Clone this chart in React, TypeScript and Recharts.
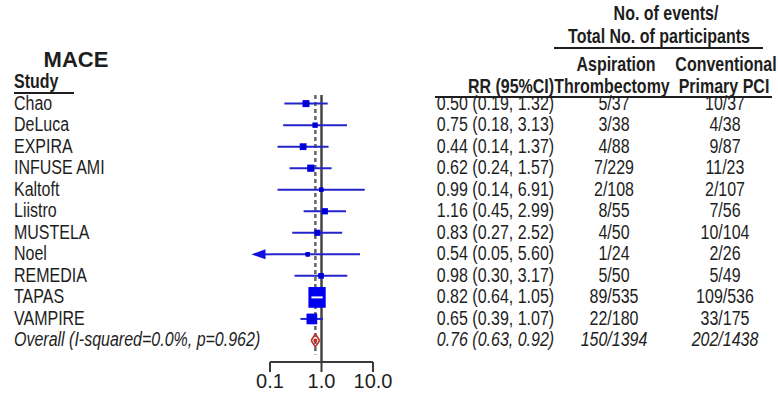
import React from 'react';
import { ScatterChart, Scatter, XAxis, YAxis, ErrorBar, ReferenceLine, ReferenceDot } from 'recharts';

const studies = ['Chao', 'DeLuca', 'EXPIRA', 'INFUSE AMI', 'Kaltoft', 'Liistro', 'MUSTELA', 'Noel', 'REMEDIA', 'TAPAS', 'VAMPIRE'];
const rr = [0.5, 0.75, 0.44, 0.62, 0.99, 1.16, 0.83, 0.54, 0.98, 0.82, 0.65];
const lower = [0.19, 0.18, 0.14, 0.24, 0.14, 0.45, 0.27, 0.05, 0.3, 0.64, 0.39];
const upper = [1.32, 3.13, 1.37, 1.57, 6.91, 2.99, 2.52, 5.6, 3.17, 1.05, 1.07];
// approx. M-H weights (%), only used for box size
const weightPct = [5.0, 2.0, 4.6, 5.6, 1.0, 3.5, 3.3, 1.0, 2.5, 54.7, 16.8];
const aspiration = ['5/37', '3/38', '4/88', '7/229', '2/108', '8/55', '4/50', '1/24', '5/50', '89/535', '22/180'];
const conventional = ['10/37', '4/38', '9/87', '11/23', '2/107', '7/56', '10/104', '2/26', '5/49', '109/536', '33/175'];

const overallLabel = 'Overall (I-squared=0.0%, p=0.962)';
const overallRR = [0.76, 0.63, 0.92];
const overallCounts = ['150/1394', '202/1438'];

const xTicks = [0.1, 1, 10];
const xTickLabels = ['0.1', '1.0', '10.0'];

const W = 778;
const H = 393;
const PLOT_TOP = 95;
const PLOT_BOTTOM = 362;
const Y_MIN = -0.4;
const Y_MAX = 12;
const rowY = (i: number) => PLOT_TOP + (i - Y_MIN) * (PLOT_BOTTOM - PLOT_TOP) / (Y_MAX - Y_MIN);

// no narrow font installed, so squeeze Liberation Sans horizontally
const SANS = '"Liberation Sans", Arial, sans-serif';
const SQUEEZE = 0.82;
const TXT = '#1e1e1e';
const BLUE_LINE = '#2424cc';
const RED = '#c0302a';

const rows = studies.map((name, i) => ({
    name,
    rr: rr[i],
    idx: i,
    w: weightPct[i],
    err: [rr[i] - Math.max(lower[i], 0.1), upper[i] - rr[i]],
}));

const fmtCI = (a: number, b: number, c: number) => `${a.toFixed(2)} (${b.toFixed(2)}, ${c.toFixed(2)})`;

const BoxShape = (props: any) => {
    const { cx, cy, payload } = props;
    const s = 2 * Math.sqrt(payload.w) + 2.5;
    const big = s > 14;
    const h = big ? s * 1.2 : s;
    return (
        <g>
            <rect x={cx - s / 2} y={cy - h / 2} width={s} height={h} fill="#0000f0" />
            {big
                ? <line x1={cx - s / 2 + 3} x2={cx + s / 2 - 3} y1={cy} y2={cy} stroke="#fff" strokeWidth={2} />
                : <circle cx={cx} cy={cy} r={2.4} fill="#0000c8" />}
        </g>
    );
};

const ArrowHead = (props: any) => {
    const { cx, cy } = props;
    return <polygon points={`${cx - 3},${cy} ${cx + 11},${cy - 5} ${cx + 11},${cy + 5}`} fill="#1010e0" />;
};

type TProps = { x: number; y: number; align?: 'left' | 'center' | 'right'; bold?: boolean; italic?: boolean; size?: number; sx?: number; children: React.ReactNode };
function T({ x, y, align = 'left', bold, italic, size = 19.5, sx = SQUEEZE, children }: TProps) {
    const style: React.CSSProperties = {
        position: 'absolute',
        top: y,
        fontFamily: SANS,
        fontSize: size,
        fontWeight: bold ? 'bold' : 'normal',
        fontStyle: italic ? 'italic' : 'normal',
        lineHeight: 0.8,
        whiteSpace: 'nowrap',
        color: TXT,
    };
    if (align === 'left') {
        style.left = x;
        style.transform = `translateY(-50%) scaleX(${sx})`;
        style.transformOrigin = 'left center';
    } else if (align === 'right') {
        style.right = W - x;
        style.transform = `translateY(-50%) scaleX(${sx})`;
        style.transformOrigin = 'right center';
    } else {
        style.left = x;
        style.transform = `translate(-50%, -50%) scaleX(${sx})`;
        style.transformOrigin = 'center center';
    }
    return <div style={style}>{children}</div>;
}

const HLine = ({ x1, x2, y }: { x1: number; x2: number; y: number }) => (
    <div style={{ position: 'absolute', left: x1, top: y - 1, width: x2 - x1, height: 2, background: TXT }} />
);

export default function App() {
    const oy = rowY(11);
    return (
        <div style={{ position: 'absolute', left: 0, top: 0, width: W, height: H, background: '#fff' }}>
            <ScatterChart width={W} height={H} margin={{ top: PLOT_TOP, right: W - 373, bottom: 0, left: 270 }}>
                <XAxis
                    type="number"
                    dataKey="rr"
                    scale="log"
                    domain={[0.1, 10]}
                    allowDataOverflow
                    ticks={xTicks}
                    tickFormatter={(v: number) => xTickLabels[xTicks.indexOf(v)]}
                    height={H - PLOT_BOTTOM}
                    stroke="#3a3a3a"
                    strokeWidth={2}
                    tickSize={10}
                    tick={{ fill: TXT, fontSize: 20, fontFamily: SANS }}
                />
                <YAxis type="number" dataKey="idx" domain={[Y_MIN, Y_MAX]} reversed hide />
                <ReferenceLine x={1} stroke="#444" strokeWidth={2.5} />
                <ReferenceLine
                    segment={[{ x: overallRR[0], y: Y_MIN }, { x: overallRR[0], y: 11.65 }]}
                    stroke="#666"
                    strokeWidth={2.5}
                    strokeDasharray="4 3"
                />
                <Scatter data={rows} shape={BoxShape} isAnimationActive={false}>
                    <ErrorBar dataKey="err" direction="x" width={0} stroke={BLUE_LINE} strokeWidth={2} isAnimationActive={false} />
                </Scatter>
                {/* Noel: lower CI off-scale, drawn with arrow */}
                <ReferenceLine
                    segment={[{ x: lower[7], y: 7 }, { x: 0.1, y: 7 }]}
                    stroke={BLUE_LINE}
                    strokeWidth={2}
                    ifOverflow="visible"
                />
                <ReferenceDot x={lower[7]} y={7} shape={ArrowHead} ifOverflow="visible" />
                {/* overall diamond */}
                <ReferenceLine segment={[{ x: overallRR[1], y: 11 }, { x: overallRR[0], y: 10.7 }]} stroke={RED} strokeWidth={1.6} />
                <ReferenceLine segment={[{ x: overallRR[0], y: 10.7 }, { x: overallRR[2], y: 11 }]} stroke={RED} strokeWidth={1.6} />
                <ReferenceLine segment={[{ x: overallRR[2], y: 11 }, { x: overallRR[0], y: 11.3 }]} stroke={RED} strokeWidth={1.6} />
                <ReferenceLine segment={[{ x: overallRR[0], y: 11.3 }, { x: overallRR[1], y: 11 }]} stroke={RED} strokeWidth={1.6} />
                <ReferenceDot x={overallRR[0]} y={11} r={2} fill={RED} stroke="none" />
            </ScatterChart>

            <T x={76} y={60} align="center" bold size={22} sx={1}>MACE</T>
            <T x={14} y={82} bold>Study</T>
            <HLine x1={14} x2={74} y={93} />

            <T x={666} y={14} align="center" bold>No. of events/</T>
            <T x={659} y={37} align="center" bold>Total No. of participants</T>
            <HLine x1={554} x2={763} y={48} />
            <T x={616} y={65} align="center" bold>Aspiration</T>
            <T x={726} y={65} align="center" bold>Conventional</T>
            <T x={554} y={87} align="right" bold>RR (95%CI)</T>
            <T x={612} y={87} align="center" bold>Thrombectomy</T>
            <T x={724} y={87} align="center" bold>Primary PCI</T>
            <HLine x1={435} x2={772} y={97} />

            {studies.map((s, i) => (
                <React.Fragment key={s}>
                    <T x={14} y={rowY(i)}>{s}</T>
                    <T x={554} y={rowY(i)} align="right">{fmtCI(rr[i], lower[i], upper[i])}</T>
                    <T x={614} y={rowY(i)} align="center">{aspiration[i]}</T>
                    <T x={725} y={rowY(i)} align="center">{conventional[i]}</T>
                </React.Fragment>
            ))}
            <T x={14} y={oy} italic>{overallLabel}</T>
            <T x={554} y={oy} align="right" italic>{fmtCI(overallRR[0], overallRR[1], overallRR[2])}</T>
            <T x={614} y={oy} align="center" italic>{overallCounts[0]}</T>
            <T x={725} y={oy} align="center" italic>{overallCounts[1]}</T>
        </div>
    );
}
